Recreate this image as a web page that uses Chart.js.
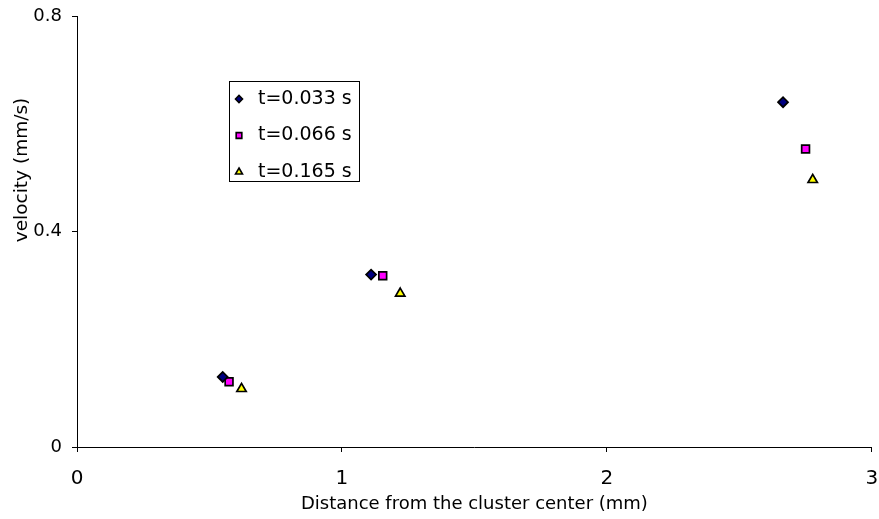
<!DOCTYPE html>
<html>
<head>
<meta charset="utf-8">
<title>Velocity vs distance</title>
<script src="https://cdn.jsdelivr.net/npm/chart.js@4.4.1/dist/chart.umd.min.js"></script>
<style>
  html, body { margin: 0; padding: 0; background: #fff; }
  #wrap { position: relative; width: 879px; height: 519px; }
</style>
</head>
<body>
<div id="wrap"><canvas id="velocityChart"></canvas></div>
<script>
// measured velocities at three time steps
const seriesLabels = ['t=0.033 s', 't=0.066 s', 't=0.165 s'];
const distT1 = [0.55, 1.11, 2.665];
const velT1 = [0.13, 0.32, 0.64];
const distT2 = [0.574, 1.154, 2.75];
const velT2 = [0.121, 0.318, 0.553];
const distT3 = [0.621, 1.22, 2.777];
const velT3 = [0.108, 0.285, 0.496];

const xTicks = [0, 1, 2, 3];
const yTicks = [0, 0.4, 0.8];

const FONT = "'DejaVu Sans', 'Liberation Sans', Arial, sans-serif";

const markers = [
  { style: 'rectRot', fill: '#000080', radius: 5, legendRadius: 3.5 },
  { style: 'rect', fill: '#ff00ff', radius: 5.5, legendRadius: 4 },
  { style: 'triangle', fill: '#ffff00', radius: 5.4, legendRadius: 4 }
];

function toPoints(xs, ys) {
  return xs.map((x, i) => ({ x, y: ys[i] }));
}

const seriesData = [toPoints(distT1, velT1), toPoints(distT2, velT2), toPoints(distT3, velT3)];

// boxed legend inside the plot, plus the rotated y title
const boxLegend = {
  id: 'boxLegend',
  afterDraw(chart) {
    const ctx = chart.ctx;
    ctx.save();
    ctx.fillStyle = '#fff';
    ctx.fillRect(229.5, 81.5, 130, 100);
    ctx.strokeStyle = '#000';
    ctx.lineWidth = 1;
    ctx.strokeRect(229.5, 81.5, 130, 100);

    const rows = [99, 135.5, 172];
    chart.data.datasets.forEach((ds, i) => {
      const m = markers[i];
      ctx.fillStyle = m.fill;
      ctx.strokeStyle = '#000';
      ctx.lineWidth = 1.6;
      Chart.helpers.drawPoint(ctx, { pointStyle: m.style, radius: m.legendRadius, borderWidth: 1.6, rotation: 0 }, 239, rows[i]);
      ctx.fillStyle = '#000';
      ctx.font = '19px ' + FONT;
      ctx.textAlign = 'left';
      ctx.textBaseline = 'middle';
      ctx.fillText(ds.label, 258, rows[i]);
    });

    ctx.translate(22, 170);
    ctx.rotate(-Math.PI / 2);
    ctx.font = '18.5px ' + FONT;
    ctx.textAlign = 'center';
    ctx.fillText('velocity (mm/s)', 0, 0);
    ctx.restore();
  }
};

new Chart(document.getElementById('velocityChart'), {
  type: 'scatter',
  data: {
    datasets: seriesData.map((pts, i) => ({
      label: seriesLabels[i],
      data: pts,
      pointStyle: markers[i].style,
      pointRadius: markers[i].radius,
      pointHoverRadius: markers[i].radius,
      pointBackgroundColor: markers[i].fill,
      pointBorderColor: '#000',
      pointBorderWidth: 1.7
    }))
  },
  options: {
    responsive: true,
    maintainAspectRatio: false,
    animation: false,
    layout: { padding: { left: 0, right: 2, top: 16, bottom: 0 } },
    plugins: {
      legend: { display: false },
      tooltip: { enabled: false }
    },
    scales: {
      x: {
        type: 'linear',
        min: 0,
        max: 3,
        afterBuildTicks: s => { s.ticks = xTicks.map(v => ({ value: v })); },
        afterFit: s => { s.height = 72; s.paddingLeft = 0; s.paddingRight = 0; },
        ticks: { color: '#000', padding: 15, font: { family: FONT, size: 20 } },
        grid: { drawOnChartArea: false, drawTicks: true, tickLength: 5, color: '#000', tickColor: '#000' },
        border: { display: true, color: '#000', width: 1 },
        title: {
          display: true,
          text: 'Distance from the cluster center (mm)',
          color: '#000',
          font: { family: FONT, size: 18 },
          padding: { top: 0, bottom: 4 }
        }
      },
      y: {
        type: 'linear',
        min: 0,
        max: 0.8,
        afterBuildTicks: s => { s.ticks = yTicks.map(v => ({ value: v })); },
        afterFit: s => { s.width = 77; s.paddingTop = 0; s.paddingBottom = 0; },
        ticks: { color: '#000', padding: 10, font: { family: FONT, size: 18 } },
        grid: { drawOnChartArea: false, drawTicks: true, tickLength: 5, color: '#000', tickColor: '#000' },
        border: { display: true, color: '#000', width: 1 }
      }
    }
  },
  plugins: [boxLegend]
});
</script>
</body>
</html>
